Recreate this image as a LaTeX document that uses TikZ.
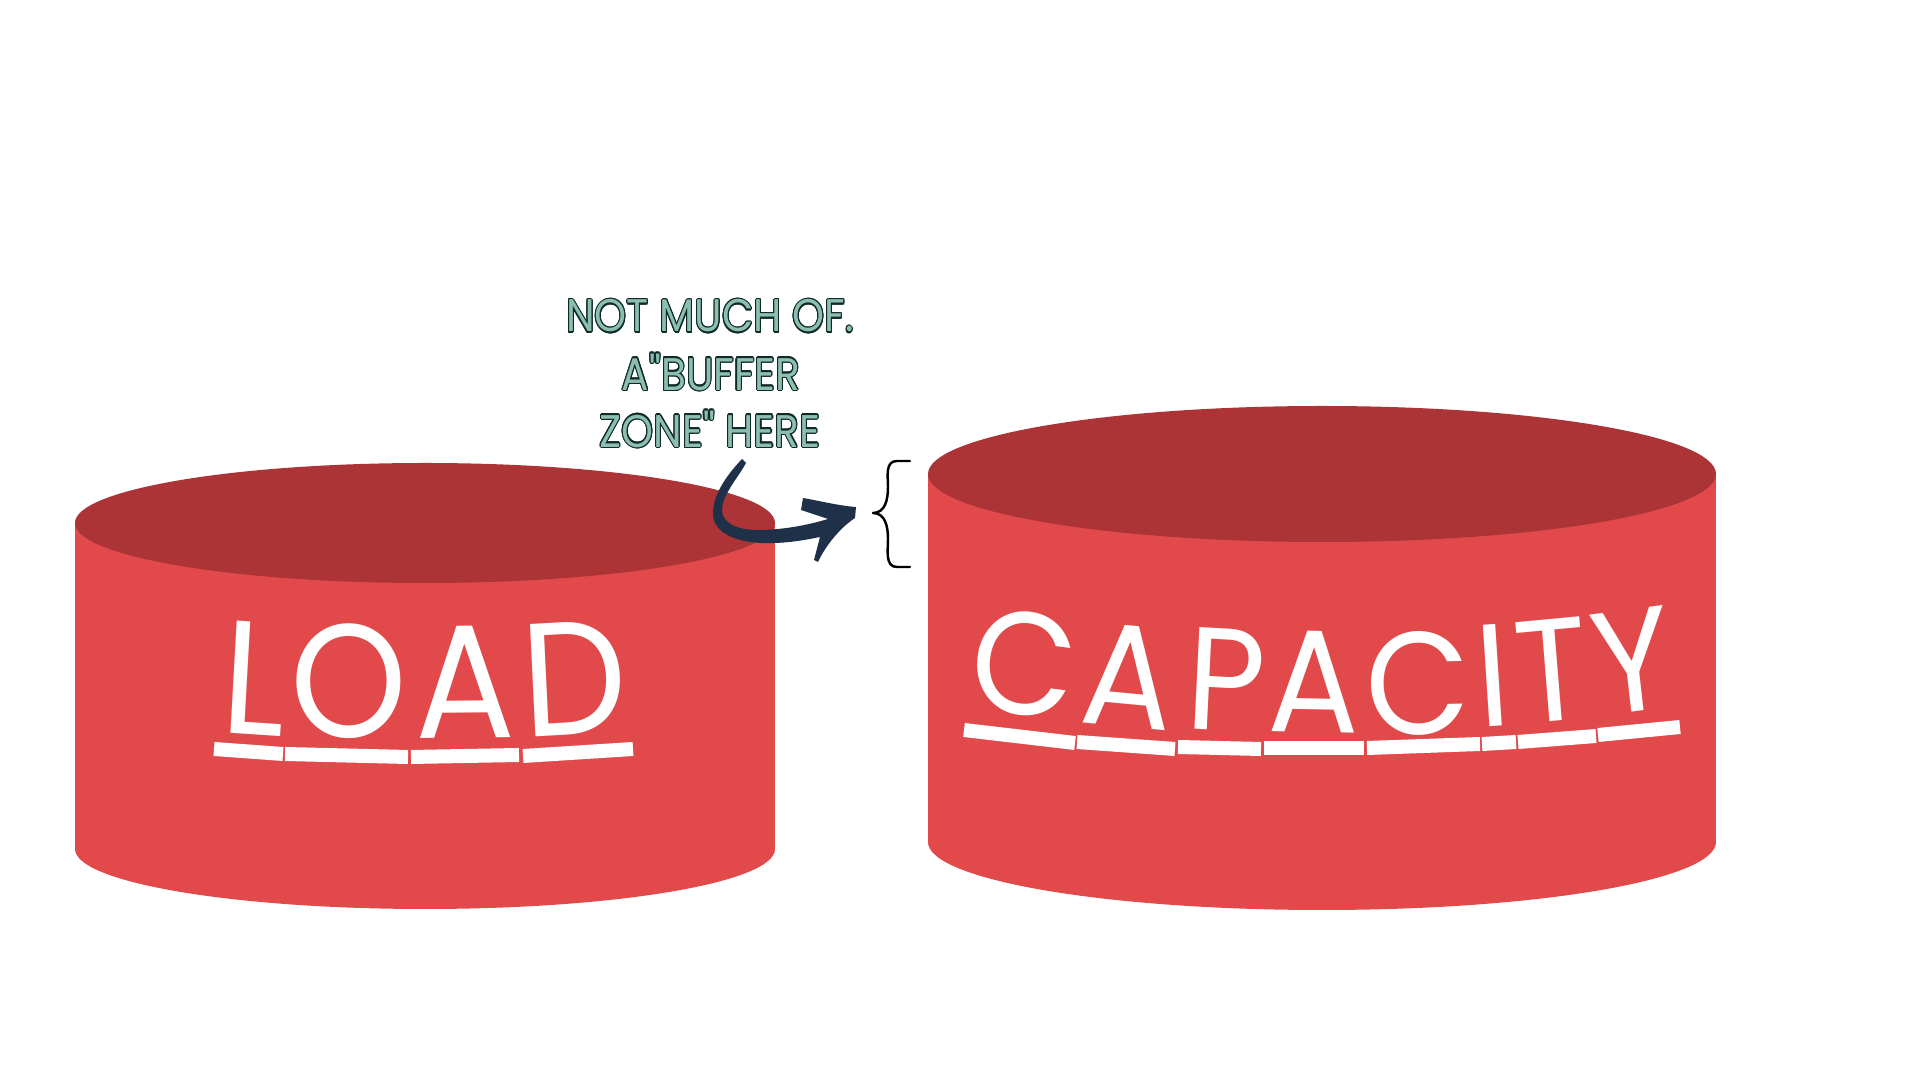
\documentclass[tikz,border=0pt]{standalone}
\usepackage{fontspec}
\newfontfamily\pop{Poppins}
\definecolor{cylside}{HTML}{E2494B}
\definecolor{cyltop}{HTML}{AC3437}
\definecolor{navy}{HTML}{1F3049}
\definecolor{anndark}{HTML}{102B27}
\definecolor{annlight}{HTML}{8CBFB2}
\begin{document}
\begin{tikzpicture}[x=0.01cm,y=-0.01cm,
  bigl/.style={font=\pop\fontsize{45.9}{50}\selectfont, text=white, inner sep=0pt, xscale=0.92},
  capl/.style={font=\pop\fontsize{41.5}{46}\selectfont, text=white, inner sep=0pt, xscale=0.93},
  uline/.style={draw=white, line width=0.14cm},
  anntext/.style={font=\pop\fontsize{13}{15}\selectfont, inner sep=0pt, xscale=0.89},
  brace/.style={draw=black, line width=0.7pt, line cap=round, line join=round}]
\useasboundingbox[fill=white] (0,0) rectangle (1920,1080);

% left cylinder (LOAD)
\fill[cylside] (75,523) rectangle (775,849);
\fill[cylside] (425,849) ellipse [x radius=350, y radius=60];
\fill[cyltop] (425,523) ellipse [x radius=350, y radius=60];

% right cylinder (CAPACITY)
\fill[cylside] (928,474) rectangle (1716,842);
\fill[cylside] (1322,842) ellipse [x radius=394, y radius=68];
\fill[cyltop] (1322,474) ellipse [x radius=394, y radius=68];

% LOAD letters
\node[bigl, rotate=-3.5] (l1) at (255,678) {L};
\node[bigl] (l2) at (349,681) {O};
\node[bigl, rotate=0.5] (l3) at (465,682) {A};
\node[bigl, rotate=3] (l4) at (574,678) {D};
\draw[uline] (214,749) -- (283,754);
\draw[uline] (285,754) -- (408,757);
\draw[uline] (411,757) -- (519,755);
\draw[uline] (523,756) -- (633,749);

% CAPACITY letters
\node[capl, rotate=-7] (c1) at (1024,664) {C};
\node[capl, rotate=-5] (c2) at (1128,676) {A};
\node[capl, rotate=-3] (c3) at (1226,680) {P};
\node[capl, rotate=-1] (c4) at (1314,682) {A};
\node[capl, rotate=1] (c5) at (1418,683) {C};
\node[capl, rotate=4, inner xsep=-2pt] (c6) at (1493,676) {I};
\node[capl, rotate=5, inner xsep=-3pt] (c7) at (1552,670) {T};
\node[capl, rotate=7, inner xsep=-4pt] (c8) at (1632,661) {Y};
\draw[uline] (964,730) -- (1075,743);
\draw[uline] (1077,742) -- (1175,749);
\draw[uline] (1178,747) -- (1261,749);
\draw[uline] (1264,748) -- (1364,748);
\draw[uline] (1367,748) -- (1480,744);
\draw[uline] (1482,744) -- (1516,742);
\draw[uline] (1518,742) -- (1596,736);
\draw[uline] (1598,735) -- (1680,727);

% annotation text (outlined)
\foreach \a in {0,22.5,...,337.5} {
  \node[anntext, text=anndark, shift={(\a:1.2)}] at (710,316) {NOT MUCH OF.};
  \node[anntext, text=anndark, shift={(\a:1.2)}] at (711,372) {A"BUFFER};
  \node[anntext, text=anndark, shift={(\a:1.2)}] at (710,429) {ZONE" HERE};
}
\node[anntext, text=annlight] (t1) at (710,316) {NOT MUCH OF.};
\node[anntext, text=annlight] (t2) at (711,372) {A"BUFFER};
\node[anntext, text=annlight] (t3) at (710,429) {ZONE" HERE};

% brush arrow
\fill[navy] (742,459) .. controls (728,474) and (714,492) .. (713,512)
  .. controls (712,530) and (730,541) .. (760,543)
  .. controls (785,544) and (805,540) .. (820,537)
  -- (814,560) -- (818,562)
  .. controls (826,545) and (840,528) .. (855,518)
  -- (856,507)
  .. controls (840,506) and (815,500) .. (803,498)
  -- (801,510) -- (828,519)
  .. controls (805,526) and (780,530) .. (758,530)
  .. controls (735,530) and (722,522) .. (722,510)
  .. controls (722,495) and (738,478) .. (746,463) -- cycle;

% brace
\draw[brace] (910,461) -- (897,461) .. controls (885,461) and (888,476) .. (888,487)
  .. controls (888,500) and (885,513) .. (873,513)
  .. controls (885,513) and (888,526) .. (888,539)
  .. controls (888,551) and (885,567) .. (897,567) -- (910,567);
\end{tikzpicture}
\end{document}
